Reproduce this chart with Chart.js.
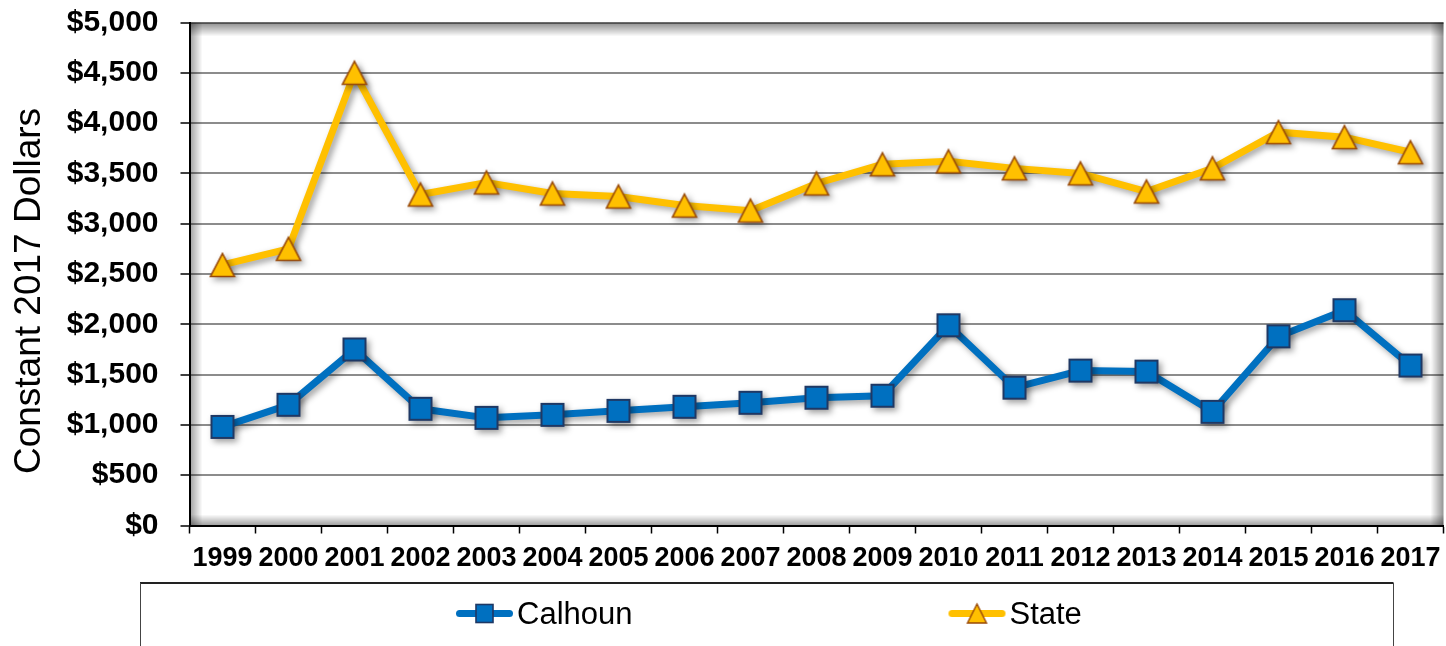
<!DOCTYPE html>
<html>
<head>
<meta charset="utf-8">
<script src="https://cdn.jsdelivr.net/npm/chart.js@4.4.1/dist/chart.umd.min.js"></script>
<style>
  html, body { margin: 0; padding: 0; background: #ffffff; }
  canvas { display: block; }
</style>
</head>
<body>
<canvas id="chart" width="1446" height="646"></canvas>
<script>
// ---- data ----
const years = ['1999','2000','2001','2002','2003','2004','2005','2006','2007','2008',
               '2009','2010','2011','2012','2013','2014','2015','2016','2017'];
const calhoun = [980, 1200, 1750, 1160, 1070, 1100, 1140, 1180, 1220, 1270,
                 1290, 1990, 1370, 1540, 1530, 1130, 1880, 2140, 1590];
const state   = [2590, 2750, 4500, 3290, 3410, 3300, 3270, 3180, 3130, 3400,
                 3590, 3620, 3550, 3500, 3320, 3550, 3910, 3860, 3710];
const seriesNames = ['Calhoun', 'State'];
const yTickValues = [0, 500, 1000, 1500, 2000, 2500, 3000, 3500, 4000, 4500, 5000];
const yAxisTitle = 'Constant 2017 Dollars';

// ---- styling ----
const FONT = '"Liberation Sans", Arial, Helvetica, sans-serif';
const BLUE = '#0070C0', BLUE_EDGE = '#1F3864';
const GOLD = '#FFC000', GOLD_EDGE = '#984807';
const LEGEND_FONT = 31;
const LEGEND_PAD = 17.5;
const LEGEND_BOX = 344;

function makeCanvas(w, h) {
  const c = document.createElement('canvas');
  c.width = w; c.height = h;
  return c;
}

function drawSquare(g, cx, cy, w, h, lw) {
  g.fillStyle = BLUE; g.strokeStyle = BLUE_EDGE; g.lineWidth = lw;
  g.fillRect(cx - w / 2, cy - h / 2, w, h);
  g.strokeRect(cx - w / 2, cy - h / 2, w, h);
}

function drawTriangle(g, cx, cy, w, h, lw) {
  g.fillStyle = GOLD; g.strokeStyle = GOLD_EDGE; g.lineWidth = lw; g.lineJoin = 'miter';
  g.beginPath();
  g.moveTo(cx, cy - h / 2);
  g.lineTo(cx + w / 2, cy + h / 2);
  g.lineTo(cx - w / 2, cy + h / 2);
  g.closePath();
  g.fill(); g.stroke();
}

// plot markers
const squareMarker = (() => {
  const c = makeCanvas(26, 26);
  drawSquare(c.getContext('2d'), 13, 13, 22, 22, 2);
  return c;
})();
const triangleMarker = (() => {
  const c = makeCanvas(28, 28);
  drawTriangle(c.getContext('2d'), 14, 14, 24, 23, 1.6);
  return c;
})();

// legend icons: line segment with marker, ending just before the label text
function legendIcon(kind) {
  const half = LEGEND_FONT / 2;
  const W = Math.round(LEGEND_BOX + 2 * half - 4);
  const H = 30;
  const c = makeCanvas(W, H);
  const g = c.getContext('2d');
  const R = W - 2, L = 57, cy = 13.5;
  g.lineCap = 'round';
  g.lineWidth = 7;
  g.strokeStyle = kind === 'square' ? BLUE : GOLD;
  g.beginPath();
  g.moveTo(R - L + 3.5, cy);
  g.lineTo(R - 3.5, cy);
  g.stroke();
  if (kind === 'square') drawSquare(g, R - 28.5, cy, 17, 18, 1.6);
  else drawTriangle(g, R - 28.5, cy, 19, 19, 1.4);
  return c;
}
const legendIcons = [legendIcon('square'), legendIcon('triangle')];

// ---- plugins ----
const plotShade = {
  id: 'plotShade',
  beforeDatasetsDraw(chart) {
    const a = chart.chartArea, c = chart.ctx;
    c.save();
    let g = c.createLinearGradient(0, a.top, 0, a.top + 14);
    g.addColorStop(0, 'rgba(0,0,0,0.45)'); g.addColorStop(1, 'rgba(0,0,0,0)');
    c.fillStyle = g; c.fillRect(a.left, a.top, a.right - a.left, 14);
    g = c.createLinearGradient(a.left, 0, a.left + 13, 0);
    g.addColorStop(0, 'rgba(0,0,0,0.38)'); g.addColorStop(1, 'rgba(0,0,0,0)');
    c.fillStyle = g; c.fillRect(a.left, a.top, 13, a.bottom - a.top);
    g = c.createLinearGradient(a.right, 0, a.right - 13, 0);
    g.addColorStop(0, 'rgba(0,0,0,0.42)'); g.addColorStop(1, 'rgba(0,0,0,0)');
    c.fillStyle = g; c.fillRect(a.right - 13, a.top, 13, a.bottom - a.top);
    g = c.createLinearGradient(0, a.bottom, 0, a.bottom - 11);
    g.addColorStop(0, 'rgba(0,0,0,0.38)'); g.addColorStop(1, 'rgba(0,0,0,0)');
    c.fillStyle = g; c.fillRect(a.left, a.bottom - 11, a.right - a.left, 11);
    c.restore();
  }
};

const dropShadow = {
  id: 'dropShadow',
  beforeDatasetsDraw(chart) {
    const c = chart.ctx;
    c.save();
    c.shadowColor = 'rgba(0,0,0,0.38)';
    c.shadowBlur = 6;
    c.shadowOffsetX = 3;
    c.shadowOffsetY = 3;
  },
  afterDatasetsDraw(chart) {
    chart.ctx.restore();
  }
};

const legendFrame = {
  id: 'legendFrame',
  afterLayout(chart) {
    const l = chart.legend;
    l.left = 140; l.right = 1393; l.width = 1253;
    l.top = 582; l.bottom = 646; l.height = 64;
  },
  afterDraw(chart) {
    const c = chart.ctx;
    c.save();
    c.strokeStyle = '#222'; c.lineWidth = 2;
    c.beginPath(); c.moveTo(140, 583); c.lineTo(1393.5, 583); c.stroke();
    c.strokeStyle = '#444'; c.lineWidth = 1;
    c.beginPath();
    c.moveTo(140.5, 583); c.lineTo(140.5, 646);
    c.moveTo(1393.5, 583); c.lineTo(1393.5, 646);
    c.stroke();
    c.restore();
  }
};

const yTitle = {
  id: 'yTitle',
  afterDraw(chart) {
    const c = chart.ctx;
    c.save();
    c.translate(30, 291);
    c.rotate(-Math.PI / 2);
    c.font = '37px ' + FONT;
    c.fillStyle = '#000';
    c.textAlign = 'center';
    c.textBaseline = 'middle';
    c.fillText(yAxisTitle, 0, 0);
    c.restore();
  }
};

// ---- chart ----
new Chart(document.getElementById('chart'), {
  type: 'line',
  data: {
    labels: years,
    datasets: [
      {
        label: seriesNames[0],
        data: calhoun,
        borderColor: BLUE,
        backgroundColor: BLUE,
        borderWidth: 7,
        pointStyle: squareMarker,
        pointRadius: 12,
        pointHoverRadius: 12,
        tension: 0,
        clip: false
      },
      {
        label: seriesNames[1],
        data: state,
        borderColor: GOLD,
        backgroundColor: GOLD,
        borderWidth: 7,
        pointStyle: triangleMarker,
        pointRadius: 12,
        pointHoverRadius: 12,
        tension: 0,
        clip: false
      }
    ]
  },
  options: {
    responsive: false,
    animation: false,
    devicePixelRatio: 1,
    layout: { autoPadding: false, padding: { top: 22.5, right: 2.5, bottom: 0, left: 0 } },
    plugins: {
      tooltip: { enabled: false },
      title: { display: false },
      legend: {
        position: 'bottom',
        align: 'start',
        labels: {
          usePointStyle: true,
          pointStyleWidth: LEGEND_BOX,
          padding: LEGEND_PAD,
          color: '#000',
          font: { family: FONT, size: LEGEND_FONT },
          generateLabels(chart) {
            const items = Chart.defaults.plugins.legend.labels.generateLabels(chart);
            items.forEach((it, i) => { it.pointStyle = legendIcons[i]; });
            return items;
          }
        }
      }
    },
    scales: {
      x: {
        type: 'category',
        offset: true,
        afterFit(scale) {
          scale.height = 62;
          scale.paddingLeft = 0; scale.paddingRight = 0;
        },
        grid: {
          offset: true,
          drawOnChartArea: false,
          drawTicks: true,
          tickLength: 8,
          tickColor: '#000',
          tickWidth: 1.5,
          color: '#000'
        },
        border: { display: true, color: '#000', width: 2 },
        ticks: {
          autoSkip: false,
          maxRotation: 0,
          minRotation: 0,
          padding: 9,
          color: '#000',
          font: { family: FONT, size: 27, weight: 'bold' }
        }
      },
      y: {
        min: 0,
        max: 5000,
        afterFit(scale) {
          scale.width = 189.5;
          scale.paddingTop = 0; scale.paddingBottom = 0;
        },
        afterBuildTicks(scale) { scale.ticks = yTickValues.map(v => ({ value: v })); },
        grid: {
          color: '#8c8c8c',
          lineWidth: 2,
          drawTicks: true,
          tickLength: 9,
          tickColor: '#000',
          tickWidth: 1.5
        },
        border: { display: true, color: '#000', width: 2 },
        ticks: {
          padding: 22,
          color: '#000',
          font: { family: FONT, size: 30, weight: 'bold' },
          callback: v => '$' + Number(v).toLocaleString('en-US')
        }
      }
    }
  },
  plugins: [plotShade, dropShadow, legendFrame, yTitle]
});
</script>
</body>
</html>
